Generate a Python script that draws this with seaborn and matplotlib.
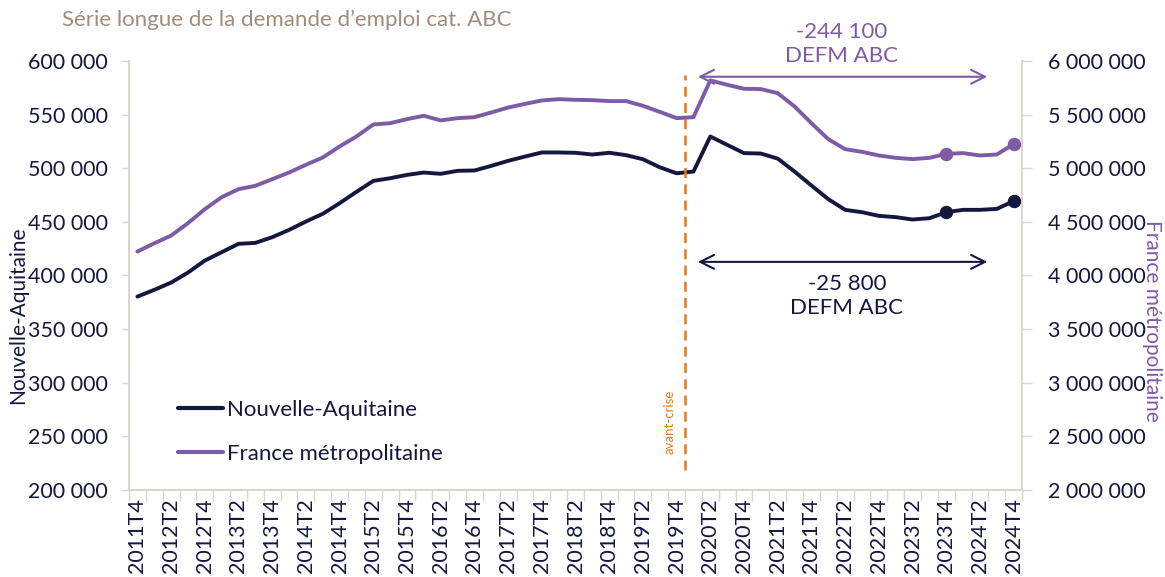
import pandas as pd
import seaborn as sns
import matplotlib.pyplot as plt
from matplotlib.lines import Line2D
from matplotlib.ticker import FuncFormatter

# trimestres 2011T4 -> 2024T4
quarters = ['2011T4'] + [f'{y}T{q}' for y in range(2012, 2025) for q in range(1, 5)]

nouvelle_aquitaine = [
    380300, 386600, 393400, 402700, 413900, 421700, 429500, 430400, 435700, 442500,
    450300, 457500, 467400, 478000, 488200, 490700, 493800, 496000, 494800, 497600,
    497900, 502200, 506900, 510900, 514700, 514700, 514400, 512800, 514400, 512200,
    508400, 500900, 495300, 496900, 529600, 521800, 514100, 513700, 509000, 496900,
    483900, 471200, 461200, 459000, 455600, 454400, 452200, 453400, 459000, 461200,
    461200, 462100, 469300,
]
france_metro = [
    4223000, 4300000, 4372000, 4488000, 4618000, 4730000, 4805000, 4836000, 4898000, 4960000,
    5032000, 5100000, 5203000, 5296000, 5408000, 5420000, 5458000, 5489000, 5446000, 5467000,
    5476000, 5520000, 5566000, 5600000, 5632000, 5644000, 5638000, 5635000, 5626000, 5626000,
    5582000, 5526000, 5467000, 5476000, 5819000, 5778000, 5741000, 5738000, 5700000, 5576000,
    5420000, 5271000, 5178000, 5153000, 5119000, 5097000, 5085000, 5097000, 5134000, 5141000,
    5119000, 5128000, 5224000,
]
highlight = ['2023T4', '2024T4']

df = pd.DataFrame({'trimestre': quarters, 'na': nouvelle_aquitaine, 'fr': france_metro})
df['pos'] = range(len(df))
pts = df[df['trimestre'].isin(highlight)]

NAVY = '#15173f'
PURPLE = '#7e5ba6'
ORANGE = '#e57a12'
GREY = '#d9d6d0'

sns.set_theme(style='white')
plt.rcParams['font.family'] = ['Lato', 'DejaVu Sans']

fig = plt.figure(figsize=(11.65, 5.77), dpi=100)
ax = fig.add_axes([0.1107, 0.1508, 0.7666, 0.7435])
ax2 = ax.twinx()

sns.lineplot(data=df, x='pos', y='na', ax=ax, color=NAVY, lw=2.8)
ax.scatter(pts['pos'], pts['na'], color=NAVY, s=75, zorder=5)
sns.lineplot(data=df, x='pos', y='fr', ax=ax2, color=PURPLE, lw=2.8)
ax2.scatter(pts['pos'], pts['fr'], color=PURPLE, s=75, zorder=5)

ax.set_xlim(-0.5, len(df) - 0.5)
ax.set_ylim(200000, 600000)
ax2.set_ylim(2000000, 6000000)

fmt = FuncFormatter(lambda v, p: f'{int(v):,}'.replace(',', ' '))
ax.set_yticks(range(200000, 600001, 50000))
ax2.set_yticks(range(2000000, 6000001, 500000))
ax.yaxis.set_major_formatter(fmt)
ax2.yaxis.set_major_formatter(fmt)

# ticks on category boundaries, labels every 2 quarters
ax.set_xticks([i - 0.5 for i in range(len(df) + 1)])
ax.set_xticklabels([])
ax.set_xticks(df['pos'][::2], minor=True)
ax.set_xticklabels(df['trimestre'][::2], minor=True, rotation=90, fontsize=15.5, color=NAVY)
ax.tick_params(axis='x', which='major', direction='out', length=8, width=1, color=GREY, bottom=True)
ax.tick_params(axis='x', which='minor', length=0, pad=6)
ax.tick_params(axis='y', direction='out', length=5, width=1, color=GREY, labelsize=15.5,
               labelcolor=NAVY, left=True, pad=10)
ax2.tick_params(axis='y', direction='out', length=7, width=1, color=GREY, labelsize=15.5,
                labelcolor=NAVY, right=True, pad=12)

for a in (ax, ax2):
    a.set_xlabel('')
    a.spines['top'].set_visible(False)
    for s in ('left', 'right', 'bottom'):
        a.spines[s].set_color(GREY)
        a.spines[s].set_linewidth(1.2)

ax.set_ylabel('Nouvelle-Aquitaine', fontsize=15, color=NAVY)
ax.yaxis.set_label_coords(-0.113, 0.408)
ax2.set_ylabel('France métropolitaine', fontsize=15, color=PURPLE, rotation=270, va='center')
ax2.yaxis.set_label_coords(1.146, 0.394)

# avant-crise marker
ax.vlines(32.5, 218700, 587000, colors=ORANGE, linestyles=(0, (4, 2.5)), lw=1.8, zorder=4)
ax.text(31.6, 263400, 'avant-crise', rotation=90, color=ORANGE, fontsize=9.5,
        ha='center', va='center')

# variations
ax.annotate('', xy=(33.1, 585300), xytext=(50.6, 585300), annotation_clip=False,
            arrowprops=dict(arrowstyle='<->', color=PURPLE, lw=1.5, mutation_scale=25))
ax.text(41.8, 616000, '-244 100\nDEFM ABC', color=PURPLE, fontsize=16, ha='center',
        va='center', linespacing=1.25, clip_on=False)
ax.annotate('', xy=(33.1, 412700), xytext=(50.6, 412700),
            arrowprops=dict(arrowstyle='<->', color=NAVY, lw=1.5, mutation_scale=25))
ax.text(42.1, 380800, '-25 800\nDEFM ABC', color=NAVY, fontsize=16, ha='center',
        va='center', linespacing=1.25)

handles = [Line2D([], [], color=NAVY, lw=3), Line2D([], [], color=PURPLE, lw=3)]
ax2.legend(handles, ['Nouvelle-Aquitaine', 'France métropolitaine'], loc='lower left',
           bbox_to_anchor=(0.033, 0.014), frameon=False, fontsize=16, handlelength=2.0,
           handletextpad=0.2, labelspacing=1.1, labelcolor=NAVY)

fig.text(0.053, 0.965, 'Série longue de la demande d’emploi cat. ABC', fontsize=16,
         color='#a08d7b', va='center')

fig.savefig('out.png', dpi=100)
